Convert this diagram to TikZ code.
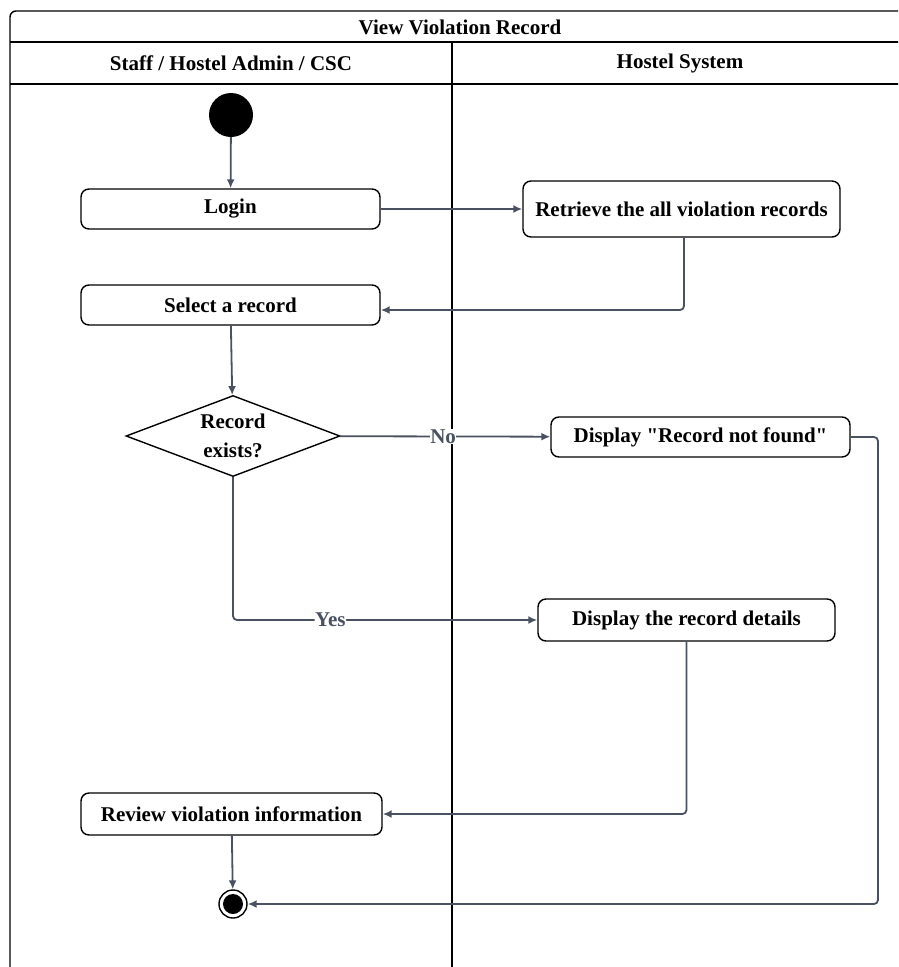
\documentclass[tikz,border=0pt]{standalone}
\usepackage{fontspec}
\setmainfont{Liberation Serif}
\newfontfamily\rawserif{Liberation Serif}
\usetikzlibrary{shapes.geometric,arrows.meta}
\definecolor{conn}{HTML}{4A5161}
\tikzset{
  x=1pt,y=-1pt,
  actbox/.style={draw=black,line width=1.4pt,rounded corners=8pt,minimum height=40pt,font=\bfseries\fontsize{21}{23}\selectfont,inner sep=0pt},
  decis/.style={draw=black,line width=1.4pt,diamond,aspect=2.64,inner sep=0pt,minimum width=214pt,minimum height=81pt,font=\bfseries\fontsize{21}{29}\selectfont,align=center},
  flow/.style={draw=conn,line width=1.8pt,-{Latex[length=9pt,width=8pt]}},
  lbl/.style={fill=white,inner sep=0.5pt,text=conn,font=\bfseries\fontsize{21}{23}\selectfont},
  lanetext/.style={font=\bfseries\fontsize{21}{23}\selectfont}
}
\begin{document}
\begin{tikzpicture}
\useasboundingbox (0,0) rectangle (898,967);
\clip (0,0) rectangle (898,967);
% frame
\draw[line width=1.4pt,rounded corners=6pt] (10,970) -- (10,11) -- (910,11);
\draw[line width=1.4pt] (10,42) -- (910,42);
\draw[line width=1.4pt] (10,84) -- (910,84);
\draw[line width=1.4pt] (452,42) -- (452,970);
\node[lanetext] (title) at (460,27) {View Violation Record};
\node[lanetext] (lane1) at (231,63) {Staff / Hostel Admin / CSC};
\node[lanetext] (lane2) at (680,63) {Hostel System};
% nodes
\node[circle,fill=black,minimum size=44pt,inner sep=0pt] (start) at (231,115) {};
\node[actbox,minimum width=299pt] (login) at (230.5,209) {Login};
\node[actbox,minimum width=317pt,minimum height=56pt] (retr) at (681.5,209) {Retrieve the all violation records};
\node[actbox,minimum width=299pt] (sel) at (230.5,305) {Select a record};
\node[decis] (dec) at (233,436) {Record\\exists?};
\node[actbox,minimum width=299pt] (nf) at (700.5,437) {Display {\rawserif"}Record not found{\rawserif"}};
\node[actbox,minimum width=297pt,minimum height=42pt] (det) at (686.5,620) {Display the record details};
\node[actbox,minimum width=301pt,minimum height=42pt] (rev) at (231.5,814) {Review violation information};
\node[circle,draw=black,line width=1.4pt,minimum size=28pt,inner sep=0pt] (end) at (233,904) {};
\fill[black] (end.center) circle (10pt);
% connectors
\draw[flow] (start) -- (login);
\draw[flow] (login) -- (retr);
\draw[flow,rounded corners=4pt] (retr.south -| 684,0) |- (sel.east |- 0,310);
\draw[flow] (sel) -- (dec);
\draw[flow] (dec) -- node[lbl,pos=0.49]{No} (nf);
\draw[flow,rounded corners=4pt] (dec.south) |- node[lbl,pos=0.66]{Yes} (det.west);
\draw[flow,rounded corners=4pt] (det.south) |- (rev.east);
\draw[flow] (rev) -- (end);
\draw[flow,rounded corners=4pt] (nf.east) -| (878,904) -- (end.east);
\end{tikzpicture}
\end{document}
